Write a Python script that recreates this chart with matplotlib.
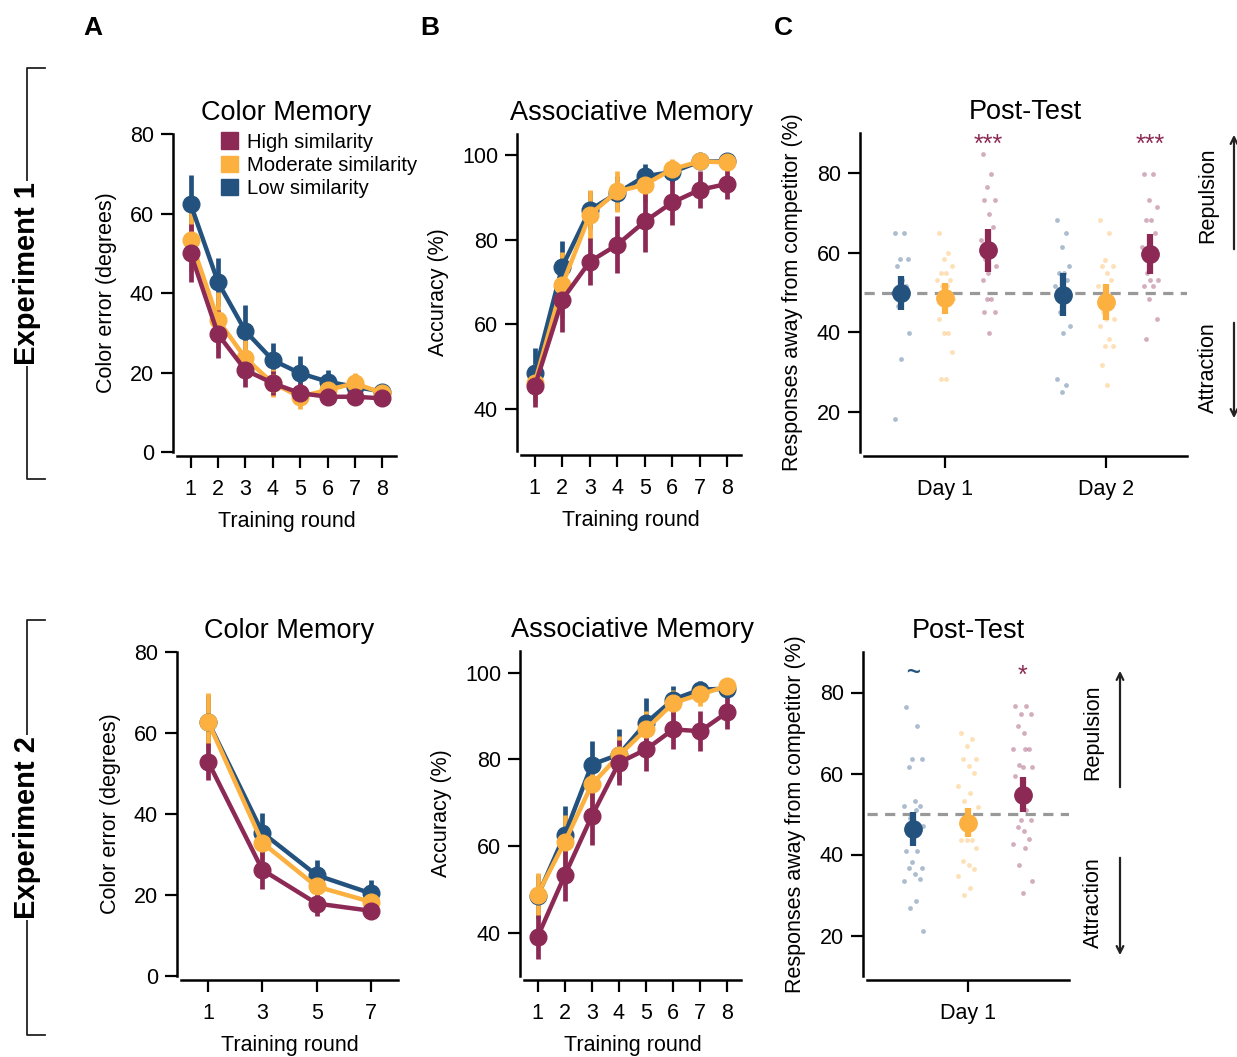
import numpy as np
import matplotlib
matplotlib.use("Agg")
import matplotlib.pyplot as plt
from matplotlib.patches import Patch, FancyArrowPatch
from matplotlib.lines import Line2D

plt.rcParams['font.family'] = ['Liberation Sans', 'DejaVu Sans']

# colours
HIGH_C = '#8c2a55'
MOD_C = '#fbb040'
LOW_C = '#24527e'

# ---- Experiment 1, color memory (training rounds 1-8)
rounds = [1, 2, 3, 4, 5, 6, 7, 8]
e1_col_high = [50.0, 29.6, 20.6, 17.3, 14.8, 13.9, 13.9, 13.5]
e1_col_high_err = [7.3, 6.0, 4.2, 3.0, 2.5, 2.0, 2.2, 2.0]
e1_col_mod = [53.3, 33.2, 23.6, 17.3, 13.9, 15.6, 17.3, 14.8]
e1_col_mod_err = [8.0, 7.0, 4.5, 3.5, 3.0, 2.5, 2.5, 2.3]
e1_col_low = [62.3, 42.7, 30.4, 23.1, 19.8, 17.7, 16.4, 15.2]
e1_col_low_err = [7.4, 6.0, 6.6, 4.4, 4.4, 2.9, 2.6, 1.8]

# ---- Experiment 1, associative memory
e1_acc_high = [45.3, 65.8, 74.8, 78.8, 84.3, 88.8, 91.8, 93.2]
e1_acc_high_err = [5.0, 7.7, 5.5, 6.7, 7.1, 5.4, 4.4, 3.6]
e1_acc_mod = [46.1, 69.3, 85.9, 91.4, 93.0, 96.7, 98.5, 98.3]
e1_acc_mod_err = [4.5, 7.8, 5.8, 4.9, 4.0, 2.5, 1.5, 1.2]
e1_acc_low = [48.4, 73.6, 87.0, 91.0, 95.0, 96.0, 98.5, 98.5]
e1_acc_low_err = [6.0, 6.0, 4.5, 4.0, 3.0, 2.5, 1.5, 1.2]

# ---- Experiment 1, post-test (Day 1, Day 2)
days1 = ['Day 1', 'Day 2']
e1_pt_low = [49.9, 49.4]
e1_pt_low_err = [4.2, 5.4]
e1_pt_mod = [48.5, 47.6]
e1_pt_mod_err = [4.0, 4.6]
e1_pt_high = [60.6, 59.7]
e1_pt_high_err = [5.4, 5.0]
e1_low_d1 = [64.8, 64.8, 58.3, 58.3, 56.6, 53.2, 51.6, 50.0, 48.3, 46.6, 39.9, 33.3, 18.4]
e1_mod_d1 = [64.8, 59.9, 58.3, 56.6, 54.9, 54.9, 53.2, 53.2, 51.6, 51.6, 48.3, 46.6,
             43.3, 39.9, 39.9, 35.0, 28.4, 28.4]
e1_high_d1 = [84.8, 79.8, 76.4, 73.1, 73.1, 69.8, 66.5, 63.1, 61.5, 58.3, 56.6, 54.9,
              53.2, 48.3, 48.3, 45.0, 45.0, 39.9]
e1_low_d2 = [68.1, 64.8, 61.5, 56.6, 54.9, 54.9, 53.2, 51.6, 48.3, 45.0, 41.6, 39.9,
             28.4, 26.8, 25.1]
e1_mod_d2 = [68.1, 64.8, 58.2, 56.6, 56.6, 54.9, 53.2, 51.6, 48.3, 45.0, 43.3, 43.3,
             41.6, 38.3, 36.6, 36.6, 31.7, 26.8]
e1_high_d2 = [79.8, 79.8, 73.1, 71.4, 68.1, 68.1, 64.8, 61.5, 58.3, 54.9, 53.2, 53.2,
              51.6, 51.6, 48.3, 43.3, 38.3]

# ---- Experiment 2, color memory (rounds 1,3,5,7)
rounds2 = [1, 3, 5, 7]
e2_col_high = [52.9, 26.2, 17.9, 16.1]
e2_col_high_err = [4.6, 4.6, 3.1, 2.1]
e2_col_mod = [62.8, 32.9, 22.1, 18.3]
e2_col_mod_err = [7.0, 4.0, 3.0, 2.5]
e2_col_low = [62.8, 35.4, 24.9, 20.4]
e2_col_low_err = [6.5, 4.8, 3.7, 3.3]

# ---- Experiment 2, associative memory
e2_acc_high = [39.0, 53.2, 66.9, 79.2, 82.3, 86.9, 86.5, 90.9]
e2_acc_high_err = [5.0, 6.0, 6.7, 5.2, 5.0, 4.6, 4.6, 4.0]
e2_acc_mod = [48.8, 60.9, 74.2, 80.9, 86.9, 93.0, 95.0, 96.9]
e2_acc_mod_err = [5.0, 6.2, 5.0, 4.5, 4.2, 3.0, 2.8, 1.8]
e2_acc_low = [48.4, 62.6, 78.8, 81.1, 88.4, 93.8, 96.1, 96.3]
e2_acc_low_err = [5.0, 6.6, 5.4, 5.8, 5.8, 3.1, 1.9, 1.5]

# ---- Experiment 2, post-test (Day 1)
e2_pt_low = [46.2]
e2_pt_low_err = [4.2]
e2_pt_mod = [47.9]
e2_pt_mod_err = [3.7]
e2_pt_high = [54.8]
e2_pt_high_err = [4.4]
e2_low_d1 = [76.4, 71.8, 63.5, 63.5, 61.7, 53.3, 51.9, 51.9, 50.9, 49.0, 47.0, 43.5,
             40.8, 40.8, 38.1, 36.7, 36.7, 35.1, 34.0, 33.4, 28.5, 26.8, 21.0]
e2_mod_d1 = [70.0, 68.4, 66.7, 63.5, 63.5, 61.8, 60.1, 56.8, 55.1, 53.3, 51.7, 50.1,
             43.5, 43.5, 43.5, 41.7, 38.3, 37.3, 36.4, 34.8, 31.8, 30.1]
e2_high_d1 = [76.7, 76.7, 74.7, 74.7, 71.7, 70.0, 66.1, 66.1, 66.1, 62.1, 61.7, 61.7,
              59.4, 50.9, 48.4, 48.4, 46.7, 45.9, 43.9, 42.5, 41.7, 37.3, 33.4, 30.5]

W, H = 1237, 1057
fig = plt.figure(figsize=(W / 100, H / 100), dpi=100)


def px_axes(left, right, top, bottom):
    return fig.add_axes([left / W, 1 - bottom / H, (right - left) / W, (bottom - top) / H])


def style(ax):
    for s in ['top', 'right']:
        ax.spines[s].set_visible(False)
    for s in ['left', 'bottom']:
        ax.spines[s].set_position(('outward', 3))
        ax.spines[s].set_linewidth(1.8)
    ax.tick_params(length=8.5, width=1.6, labelsize=15.5)
    ax.tick_params(axis='x', pad=8)
    ax.tick_params(axis='y', pad=5)


def line_panel(ax, x, series, title, ylabel):
    for mean, err, c in series:
        ax.errorbar(x, mean, yerr=err, color=c, lw=3.2, marker='o', ms=12,
                    elinewidth=3.4, capsize=0)
    ax.set_title(title, fontsize=19.5, pad=10)
    ax.set_ylabel(ylabel, fontsize=15.5, labelpad=9)
    ax.set_xlabel('Training round', fontsize=15.5, labelpad=8)
    style(ax)


def jitter(n, width):
    pattern = [-0.6, 0.3, -0.1, 0.7, -0.4, 0.1, 0.5, -0.8, 0.2, -0.3, 0.8, 0.0]
    return np.array([pattern[i % len(pattern)] * width for i in range(n)])


def posttest_panel(ax, groups, offset):
    ax.axhline(50, color='#999999', lw=2.3, dashes=(3.2, 2.3), zorder=1)
    for (dots_list, mean, err, c), off in zip(groups, [-offset, 0, offset]):
        for i, dots in enumerate(dots_list):
            xs = i + off + jitter(len(dots), 0.06)
            ax.scatter(xs, dots, s=12, color=c, alpha=0.38, lw=0, zorder=2)
        xi = np.arange(len(mean)) + off
        ax.errorbar(xi, mean, yerr=err, fmt='o', color=c, ms=12.5, elinewidth=4.5,
                    capsize=0, zorder=3)
    ax.set_title('Post-Test', fontsize=19.5, pad=10)
    ax.set_ylabel('Responses away from competitor (%)', fontsize=15.5, labelpad=10)
    style(ax)
    ax.set_ylim(10, 90)
    ax.set_yticks([20, 40, 60, 80])


# --- row 1
axA = px_axes(177, 396, 134, 452)
line_panel(axA, rounds, [(e1_col_low, e1_col_low_err, LOW_C),
                         (e1_col_mod, e1_col_mod_err, MOD_C),
                         (e1_col_high, e1_col_high_err, HIGH_C)],
           'Color Memory', 'Color error (degrees)')
axA.set_xlim(0.5, 8.5)
axA.set_ylim(0, 80)
axA.set_xticks(rounds)
axA.set_yticks([0, 20, 40, 60, 80])
handles = [Patch(color=HIGH_C), Patch(color=MOD_C), Patch(color=LOW_C)]
axA.legend(handles, ['High similarity', 'Moderate similarity', 'Low similarity'],
           loc='upper left', bbox_to_anchor=(0.2, 1.005), frameon=False, fontsize=14.6,
           handlelength=0.85, handleheight=0.85, handletextpad=0.45, labelspacing=0.2,
           borderpad=0, borderaxespad=0)

axB = px_axes(521, 741, 134, 451)
line_panel(axB, rounds, [(e1_acc_low, e1_acc_low_err, LOW_C),
                         (e1_acc_mod, e1_acc_mod_err, MOD_C),
                         (e1_acc_high, e1_acc_high_err, HIGH_C)],
           'Associative Memory', 'Accuracy (%)')
axB.set_xlim(0.5, 8.5)
axB.set_ylim(30, 105)
axB.set_xticks(rounds)
axB.set_yticks([40, 60, 80, 100])

axC = px_axes(864, 1187, 133, 452)
posttest_panel(axC, [((e1_low_d1, e1_low_d2), e1_pt_low, e1_pt_low_err, LOW_C),
                     ((e1_mod_d1, e1_mod_d2), e1_pt_mod, e1_pt_mod_err, MOD_C),
                     ((e1_high_d1, e1_high_d2), e1_pt_high, e1_pt_high_err, HIGH_C)], 0.27)
axC.set_xlim(-0.5, 1.5)
axC.set_xticks([0, 1])
axC.set_xticklabels(days1)
for xi in [0.27, 1.27]:
    axC.text(xi, 87.0, '***', color=HIGH_C, ha='center', va='center', fontsize=18)

# --- row 2
axD = px_axes(181, 398, 652, 976)
line_panel(axD, rounds2, [(e2_col_low, e2_col_low_err, LOW_C),
                          (e2_col_mod, e2_col_mod_err, MOD_C),
                          (e2_col_high, e2_col_high_err, HIGH_C)],
           'Color Memory', 'Color error (degrees)')
axD.set_xlim(0, 8)
axD.set_ylim(0, 80)
axD.set_xticks(rounds2)
axD.set_yticks([0, 20, 40, 60, 80])

axE = px_axes(524, 741, 651, 976)
line_panel(axE, rounds, [(e2_acc_low, e2_acc_low_err, LOW_C),
                         (e2_acc_mod, e2_acc_mod_err, MOD_C),
                         (e2_acc_high, e2_acc_high_err, HIGH_C)],
           'Associative Memory', 'Accuracy (%)')
axE.set_xlim(0.5, 8.5)
axE.set_ylim(30, 105)
axE.set_xticks(rounds)
axE.set_yticks([40, 60, 80, 100])

axF = px_axes(867, 1069, 652, 976)
posttest_panel(axF, [((e2_low_d1,), e2_pt_low, e2_pt_low_err, LOW_C),
                     ((e2_mod_d1,), e2_pt_mod, e2_pt_mod_err, MOD_C),
                     ((e2_high_d1,), e2_pt_high, e2_pt_high_err, HIGH_C)], 0.27)
axF.set_xlim(-0.5, 0.5)
axF.set_xticks([0])
axF.set_xticklabels(['Day 1'])
axF.text(-0.27, 85, '~', color=LOW_C, ha='center', va='center', fontsize=17,
         fontweight='bold')
axF.text(0.27, 84, '*', color=HIGH_C, ha='center', va='center', fontsize=18)


# --- figure-level annotations (pixel positions)
def fx(x):
    return x / W


def fy(y):
    return 1 - y / H


for letter, x in [('A', 93), ('B', 430), ('C', 783)]:
    fig.text(fx(x), fy(28), letter, fontsize=19, fontweight='bold', ha='center', va='center')

for label, top, bottom in [('Experiment 1', 68, 479), ('Experiment 2', 620, 1035)]:
    xs = [fx(45), fx(27), fx(27), fx(45)]
    ys = [fy(top), fy(top), fy(bottom), fy(bottom)]
    fig.add_artist(Line2D(xs, ys, color='#222222', lw=1.3, transform=fig.transFigure))
    fig.text(fx(27), fy((top + bottom) / 2), label, rotation=90, fontsize=21,
             fontweight='bold', ha='center', va='center',
             bbox=dict(facecolor='white', edgecolor='none', pad=1))


def side_arrows(xt, xa, rep_y, rep_a, att_y, att_a):
    fig.text(fx(xt), fy(rep_y), 'Repulsion', rotation=90, fontsize=15.5, ha='center', va='center')
    fig.text(fx(xt), fy(att_y), 'Attraction', rotation=90, fontsize=15.5, ha='center', va='center')
    fig.add_artist(FancyArrowPatch((fx(xa), fy(rep_a[0])), (fx(xa), fy(rep_a[1])),
                                   transform=fig.transFigure, arrowstyle='->',
                                   mutation_scale=12, lw=1.6, color='#222222'))
    fig.add_artist(FancyArrowPatch((fx(xa), fy(att_a[0])), (fx(xa), fy(att_a[1])),
                                   transform=fig.transFigure, arrowstyle='->',
                                   mutation_scale=12, lw=1.6, color='#222222'))


side_arrows(1208, 1234, 195, (252, 132), 368, (320, 421))
side_arrows(1093, 1120, 732, (790, 668), 903, (855, 958))

fig.savefig('out.png', dpi=100)
